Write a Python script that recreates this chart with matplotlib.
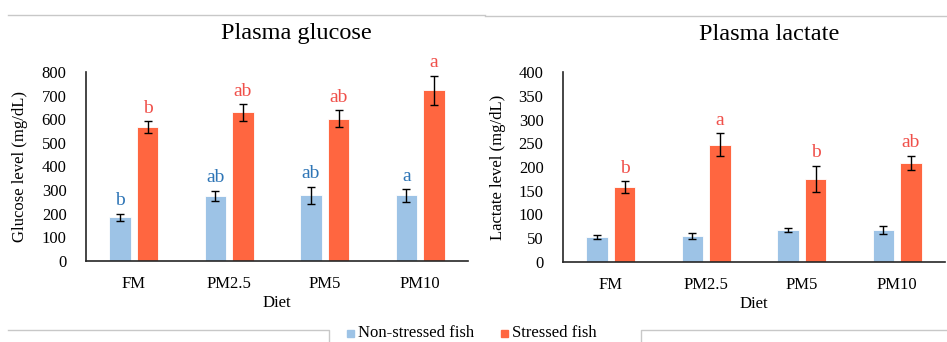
import numpy as np
import matplotlib
matplotlib.use('Agg')
import matplotlib.pyplot as plt
from matplotlib.lines import Line2D
from matplotlib.patches import Rectangle

dietas = ['FM', 'PM2.5', 'PM5', 'PM10']

glicose_ns = [185, 275, 278, 278]
glicose_ns_err = [16, 23, 36, 27]
glicose_s = [568, 629, 603, 722]
glicose_s_err = [25, 35, 35, 63]
glicose_ns_let = ['b', 'ab', 'ab', 'a']
glicose_s_let = ['b', 'ab', 'ab', 'a']

lactato_ns = [52, 55, 67, 67]
lactato_ns_err = [4, 6, 4.5, 9]
lactato_s = [158, 247, 175, 209]
lactato_s_err = [12, 24, 28, 15]
lactato_ns_let = ['', '', '', '']
lactato_s_let = ['b', 'a', 'b', 'ab']

azul = '#9dc3e6'
laranja = '#ff6640'
azul_txt = '#2e75b6'
verm_txt = '#f0504a'

plt.rcParams['font.family'] = 'Liberation Serif'
plt.rcParams['font.size'] = 12

W, H = 947, 342
fig = plt.figure(figsize=(W / 100, H / 100), dpi=100)


def eixo(x0, x1, ytop, ybot):
    return fig.add_axes([x0 / W, (H - ybot) / H, (x1 - x0) / W, (ybot - ytop) / H])


def grafico(ax, ns, ns_err, s, s_err, let_ns, let_s, ymax, passo, ylabel, ylab_x):
    x = np.arange(len(dietas))
    w = 0.225
    d = 0.144
    ax.bar(x - d, ns, w, color=azul, edgecolor='white', linewidth=0.6)
    ax.bar(x + d, s, w, color=laranja, edgecolor='white', linewidth=0.6)
    ax.errorbar(x - d, ns, yerr=ns_err, fmt='none', ecolor='black', elinewidth=1, capsize=3, capthick=1)
    ax.errorbar(x + d, s, yerr=s_err, fmt='none', ecolor='black', elinewidth=1, capsize=3, capthick=1)
    for i in range(len(dietas)):
        if let_ns[i]:
            ax.annotate(let_ns[i], (x[i] - d, ns[i] + ns_err[i]), xytext=(0, 6),
                        textcoords='offset points', ha='center', va='baseline',
                        color=azul_txt, fontsize=14)
        if let_s[i]:
            ax.annotate(let_s[i], (x[i] + d, s[i] + s_err[i]), xytext=(0, 6),
                        textcoords='offset points', ha='center', va='baseline',
                        color=verm_txt, fontsize=14)
    ax.set_xlim(-0.5, len(dietas) - 0.5)
    ax.set_ylim(0, ymax)
    ax.set_yticks(np.arange(0, ymax + 1, passo))
    ax.set_xticks(x)
    ax.set_xticklabels(dietas)
    ax.tick_params(length=0)
    ax.tick_params(axis='y', pad=14)
    ax.tick_params(axis='x', pad=11)
    for lado in ['top', 'right']:
        ax.spines[lado].set_visible(False)
    for lado in ['left', 'bottom']:
        ax.spines[lado].set_color('#262626')
        ax.spines[lado].set_linewidth(1.2)
    ax.set_xlabel('Diet', fontsize=12)
    ax.set_ylabel(ylabel, fontsize=12)
    ax.xaxis.set_label_coords(0.5, -0.18)
    ax.yaxis.set_label_coords(ylab_x, 0.5)


ax1 = eixo(86, 468, 72, 261)
grafico(ax1, glicose_ns, glicose_ns_err, glicose_s, glicose_s_err,
        glicose_ns_let, glicose_s_let, 800, 100, 'Glucose level (mg/dL)', -0.152)
ax2 = eixo(563, 945, 72, 262)
grafico(ax2, lactato_ns, lactato_ns_err, lactato_s, lactato_s_err,
        lactato_ns_let, lactato_s_let, 400, 50, 'Lactate level (mg/dL)', -0.149)

fig.text(296 / W, 1 - 34 / H, 'Plasma glucose', ha='center', va='center', fontsize=17.5)
fig.text(769 / W, 1 - 34 / H, 'Plasma lactate', ha='center', va='center', fontsize=17.5)

# molduras cinzas dos graficos
cinza = '#c8c8c8'
def linha(xs, ys):
    fig.add_artist(Line2D([v / W for v in xs], [1 - v / H for v in ys], color=cinza, lw=1))

linha([8, 485], [15, 15])
linha([485, 947], [16, 16])
linha([8, 329, 329], [330, 330, 342])
linha([641, 641, 947], [342, 330, 330])

# legenda
fig.add_artist(Rectangle((347 / W, 1 - 337 / H), 7 / W, 7 / H, color=azul))
fig.text(358 / W, 1 - 333 / H, 'Non-stressed fish', ha='left', va='center', fontsize=12)
fig.add_artist(Rectangle((501 / W, 1 - 337 / H), 7 / W, 7 / H, color=laranja))
fig.text(512 / W, 1 - 333 / H, 'Stressed fish', ha='left', va='center', fontsize=12)

fig.savefig('out.png', dpi=100)
